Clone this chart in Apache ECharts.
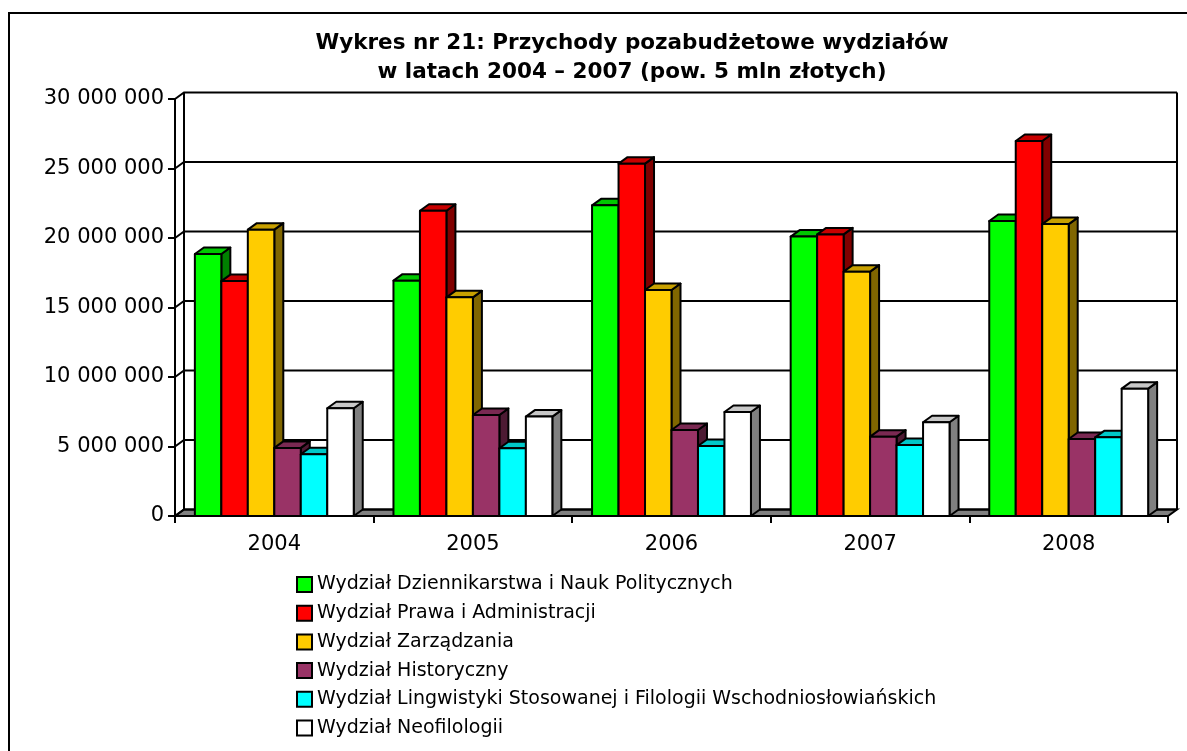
<!DOCTYPE html>
<html>
<head>
<meta charset="utf-8">
<title>Wykres nr 21</title>
<script src="https://cdn.jsdelivr.net/npm/echarts@6/dist/echarts.min.js"></script>
<style>
  html, body { margin: 0; padding: 0; background: #fff; }
  #chart { width: 1187px; height: 751px; }
</style>
</head>
<body>
<div id="chart"></div>
<script>
// lata (kategorie osi X)
var years = ['2004', '2005', '2006', '2007', '2008']

// wartości osi Y (linie siatki)
var yTicks = [0, 5000000, 10000000, 15000000, 20000000, 25000000, 30000000]

var seriesNames = [
  'Wydział Dziennikarstwa i Nauk Politycznych',
  'Wydział Prawa i Administracji',
  'Wydział Zarządzania',
  'Wydział Historyczny',
  'Wydział Lingwistyki Stosowanej i Filologii Wschodniosłowiańskich',
  'Wydział Neofilologii'
]

// przychody pozabudżetowe (zł)
var dziennikarstwo = [18850000, 16930000, 22350000, 20100000, 21220000]
var prawo = [16900000, 21960000, 25350000, 20260000, 26980000]
var zarzadzanie = [20600000, 15730000, 16260000, 17580000, 21000000]
var historyczny = [4900000, 7270000, 6190000, 5710000, 5540000]
var lingwistyka = [4440000, 4870000, 5040000, 5100000, 5660000]
var neofilologia = [7750000, 7150000, 7480000, 6740000, 9160000]

var seriesValues = [dziennikarstwo, prawo, zarzadzanie, historyczny, lingwistyka, neofilologia]

// kolory: przód, góra, bok
var colors = [
  ['#00ff00', '#00c800', '#008000'],
  ['#ff0000', '#c80000', '#800000'],
  ['#ffcc00', '#c8a000', '#806600'],
  ['#993366', '#7a2952', '#4d1a33'],
  ['#00ffff', '#00c8c8', '#008080'],
  ['#ffffff', '#c8c8c8', '#808080']
]

var FONT = 'DejaVu Sans'
var DX = 9 // głębokość 3D w poziomie
var DY = 6.5 // głębokość 3D w pionie
var LW = 2

function fmt(v) {
  return String(v).replace(/\B(?=(\d{3})+(?!\d))/g, ' ')
}

var myChart = echarts.init(document.getElementById('chart'), null, { renderer: 'canvas' })

// ściany i podłoga wykresu 3D
var wallSeries = {
  type: 'custom',
  name: 'walls',
  silent: true,
  z: 1,
  data: yTicks.map(function(v) { return [0, v] }),
  encode: { x: 0, y: 1 },
  renderItem: function(params, api) {
    var cs = params.coordSys
    var x0 = cs.x
    var x1 = cs.x + cs.width
    var v = api.value(1)
    var y = api.coord([0, v])[1]
    var yBase = api.coord([0, 0])[1]
    var line = { stroke: '#000', lineWidth: LW, fill: null }
    var children = []
    if (v === 0) {
      children.push({
        type: 'polygon',
        shape: { points: [[x0, y], [x1, y], [x1 + DX, y - DY], [x0 + DX, y - DY]] },
        style: { fill: '#808080', stroke: '#000', lineWidth: LW }
      })
    }
    children.push({
      type: 'polyline',
      shape: { points: [[x0, y], [x0 + DX, y - DY], [x1 + DX, y - DY]] },
      style: line
    })
    if (v === yTicks[yTicks.length - 1]) {
      children.push({
        type: 'line',
        shape: { x1: x0 + DX, y1: y - DY, x2: x0 + DX, y2: yBase - DY },
        style: line
      })
      children.push({
        type: 'line',
        shape: { x1: x1 + DX, y1: y - DY, x2: x1 + DX, y2: yBase - DY },
        style: line
      })
    }
    return { type: 'group', children: children }
  }
}

function barRenderer(idx) {
  var c = colors[idx]
  return function(params, api) {
    var cat = api.value(0)
    var top = api.coord([cat, api.value(1)])
    var base = api.coord([cat, 0])
    var band = api.size([1, 0])[0]
    var w = band * 0.8 / 6
    var x = top[0] - 3 * w + idx * w
    var y1 = top[1]
    var y0 = base[1]
    var st = { stroke: '#000', lineWidth: LW, lineJoin: 'round' }
    return {
      type: 'group',
      children: [
        {
          type: 'polygon',
          shape: { points: [[x + w, y1], [x + w + DX, y1 - DY], [x + w + DX, y0 - DY], [x + w, y0]] },
          style: Object.assign({ fill: c[2] }, st)
        },
        {
          type: 'polygon',
          shape: { points: [[x, y1], [x + w, y1], [x + w + DX, y1 - DY], [x + DX, y1 - DY]] },
          style: Object.assign({ fill: c[1] }, st)
        },
        {
          type: 'rect',
          shape: { x: x, y: y1, width: w, height: y0 - y1 },
          style: Object.assign({ fill: c[0] }, st)
        }
      ]
    }
  }
}

var barSeries = seriesNames.map(function(name, i) {
  return {
    type: 'custom',
    name: name,
    z: 2,
    data: seriesValues[i].map(function(v, k) { return [k, v] }),
    encode: { x: 0, y: 1 },
    itemStyle: { color: colors[i][0], borderColor: '#000', borderWidth: 2 },
    renderItem: barRenderer(i)
  }
})

var option = {
  animation: false,
  backgroundColor: '#fff',
  textStyle: { fontFamily: FONT, color: '#000' },
  title: {
    text: 'Wykres nr 21: Przychody pozabudżetowe wydziałów\nw latach 2004 – 2007 (pow. 5 mln złotych)',
    left: 632,
    top: 29,
    textAlign: 'center',
    padding: 0,
    textStyle: {
      fontFamily: FONT,
      fontWeight: 'bold',
      fontSize: 21.5,
      lineHeight: 29,
      color: '#000'
    }
  },
  legend: {
    orient: 'vertical',
    left: 296,
    top: 575,
    padding: 0,
    itemWidth: 15,
    itemHeight: 15,
    itemGap: 9.7,
    icon: 'rect',
    data: seriesNames,
    selectedMode: false,
    itemStyle: { borderColor: '#000', borderWidth: 2 },
    textStyle: { fontFamily: FONT, fontSize: 19, lineHeight: 19, color: '#000' }
  },
  grid: {
    left: 175,
    right: 19,
    top: 99,
    bottom: 235,
    containLabel: false
  },
  xAxis: {
    type: 'category',
    data: years,
    boundaryGap: true,
    axisLine: { show: true, lineStyle: { color: '#000', width: LW } },
    axisTick: { show: true, length: 7, lineStyle: { color: '#000', width: LW } },
    axisLabel: { margin: 18, fontSize: 21, fontFamily: FONT, color: '#000' },
    splitLine: { show: false }
  },
  yAxis: {
    type: 'value',
    min: 0,
    max: 30000000,
    interval: 5000000,
    axisLine: { show: true, lineStyle: { color: '#000', width: LW } },
    axisTick: { show: true, length: 7, lineStyle: { color: '#000', width: LW } },
    axisLabel: { margin: 11, fontSize: 21, fontFamily: FONT, color: '#000', formatter: fmt },
    splitLine: { show: false }
  },
  graphic: [
    {
      type: 'rect',
      silent: true,
      z: -10,
      shape: { x: 9, y: 13, width: 1200, height: 760 },
      style: { fill: null, stroke: '#000', lineWidth: 2 }
    }
  ],
  series: [wallSeries].concat(barSeries)
}

myChart.setOption(option)
window.addEventListener('resize', function() {
  myChart.resize()
})
</script>
</body>
</html>
